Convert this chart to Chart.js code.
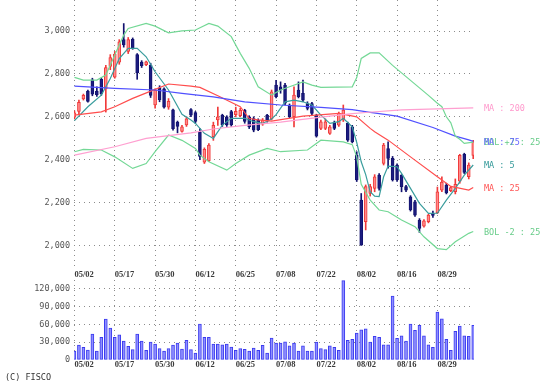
<!DOCTYPE html>
<html><head><meta charset="utf-8">
<script src="https://cdn.jsdelivr.net/npm/chart.js@4/dist/chart.umd.min.js"></script>
<style>
html,body{margin:0;padding:0;background:#fff;width:555px;height:387px;overflow:hidden}
#wrap{position:relative;width:555px;height:387px}
#main{position:absolute;left:0;top:0;width:555px;height:280px}
#vol{position:absolute;left:0;top:280px;width:555px;height:107px}
#copy{position:absolute;left:5px;top:372px;font:8.5px 'DejaVu Sans Mono',monospace;color:#333;line-height:10px}
</style></head><body>
<div id="wrap">
<canvas id="main" width="555" height="280"></canvas>
<canvas id="vol" width="555" height="107"></canvas>
<div id="copy">(C) FISCO</div>
</div>
<script>
const dates = ["05/02","05/07","05/08","05/09","05/10","05/13","05/14","05/15","05/16","05/17",
"05/20","05/21","05/22","05/23","05/24","05/27","05/28","05/29","05/30","05/31",
"06/03","06/04","06/05","06/06","06/07","06/10","06/11","06/12","06/13","06/14",
"06/17","06/18","06/19","06/20","06/21","06/24","06/25","06/26","06/27","06/28",
"07/01","07/02","07/03","07/04","07/05","07/08","07/09","07/10","07/11","07/12",
"07/16","07/17","07/18","07/19","07/22","07/23","07/24","07/25","07/26","07/29",
"07/30","07/31","08/01","08/02","08/05","08/06","08/07","08/08","08/09","08/13",
"08/14","08/15","08/16","08/19","08/20","08/21","08/22","08/23","08/26","08/27",
"08/28","08/29","08/30","09/02","09/03","09/04","09/05","09/06","09/09","09/10"];
const dateTickLabels = ["05/02","05/17","05/30","06/12","06/25","07/08","07/22","08/02","08/16","08/29"];
const priceTicks = [2000,2200,2400,2600,2800,3000];
const volumeTicks = [0,30000,60000,90000,120000];

const open  = [2598,2625,2683,2720,2772,2720,2775,2730,2835,2785,2855,2960,2905,2962,2890,2855,2843,2840,2655,2734,2730,2645,2632,2575,2532,2562,2634,2620,2530,2388,2395,2507,2585,2608,2600,2624,2610,2605,2630,2600,2592,2585,2566,2608,2590,2748,2740,2748,2655,2600,2725,2709,2662,2662,2608,2546,2546,2522,2569,2561,2585,2569,2553,2421,2211,2110,2242,2266,2328,2382,2452,2406,2375,2328,2274,2227,2203,2118,2090,2110,2150,2152,2258,2280,2255,2250,2300,2425,2320,2420];
const high  = [2628,2678,2706,2725,2780,2740,2780,2840,2890,2905,2960,3035,2970,2968,2895,2862,2860,2850,2730,2745,2735,2685,2636,2580,2560,2600,2638,2625,2545,2455,2475,2575,2645,2612,2605,2630,2645,2640,2635,2605,2600,2590,2592,2612,2725,2770,2763,2756,2660,2740,2763,2771,2670,2668,2612,2585,2590,2560,2580,2622,2655,2575,2560,2437,2242,2282,2285,2330,2335,2476,2483,2415,2380,2330,2280,2232,2210,2125,2120,2145,2160,2272,2320,2290,2275,2310,2425,2430,2385,2490];
const low   = [2590,2615,2678,2668,2698,2695,2700,2622,2820,2780,2845,2925,2895,2915,2775,2830,2838,2690,2640,2670,2640,2635,2538,2525,2528,2555,2600,2570,2400,2382,2390,2490,2560,2555,2555,2555,2600,2600,2570,2545,2530,2535,2560,2575,2585,2688,2710,2655,2595,2553,2688,2670,2632,2610,2505,2540,2540,2518,2540,2555,2578,2485,2478,2298,2000,2072,2230,2250,2258,2375,2360,2300,2298,2250,2250,2160,2135,2060,2085,2105,2130,2148,2250,2240,2250,2240,2290,2335,2310,2405];
const close = [2618,2668,2700,2672,2705,2703,2708,2830,2876,2893,2950,2935,2960,2920,2805,2838,2857,2700,2725,2680,2645,2672,2545,2555,2553,2590,2608,2578,2415,2448,2468,2560,2600,2562,2562,2562,2625,2630,2578,2553,2538,2540,2585,2580,2717,2694,2725,2663,2600,2701,2694,2678,2639,2616,2510,2577,2577,2553,2546,2616,2631,2491,2483,2305,2001,2274,2274,2320,2266,2468,2406,2305,2305,2274,2258,2165,2141,2079,2115,2141,2140,2250,2295,2245,2270,2285,2420,2340,2375,2483];
const volume = [15100,25200,21300,16800,43700,15100,38100,69000,53800,38100,42600,32000,23000,17400,43700,32000,16300,30300,26900,19100,15100,19100,25200,28600,18500,33100,17400,11800,60600,38100,38100,26900,26900,25800,26900,21900,16300,19100,18000,15100,20200,16300,24700,11800,37000,28600,28600,30800,24100,28600,15100,24100,15100,15100,30300,19100,17400,24100,21300,16300,134000,33100,34800,45400,51000,52700,30300,39800,38100,25800,25800,107700,36400,40900,32000,60600,49900,58300,40900,25800,21300,80700,69500,34800,16300,48200,57200,40900,39800,58300];

// [day index, value]
const ma5 = [[0,2582],[3,2647],[6,2701],[8,2779],[10,2872],[12,2919],[14,2919],[16,2880],[18,2810],[21,2725],[24,2612],[26,2585],[27,2569],[29,2523],[31,2499],[33,2561],[35,2593],[38,2593],[40,2577],[42,2569],[44,2590],[45,2610],[47,2670],[49,2678],[51,2670],[53,2655],[55,2608],[57,2569],[59,2577],[60,2593],[62,2553],[63,2480],[64,2390],[65,2330],[66,2250],[67,2230],[68,2228],[69,2320],[70,2370],[72,2367],[73,2336],[75,2266],[77,2196],[79,2149],[81,2150],[83,2211],[85,2266],[87,2328],[89,2375]];
const ma25 = [[0,2608],[6,2623],[9,2647],[13,2686],[18,2728],[21,2753],[26,2743],[28,2737],[32,2698],[37,2647],[39,2592],[41,2586],[44,2580],[51,2603],[59,2616],[63,2600],[66,2546],[67,2530],[70,2491],[75,2413],[81,2320],[84,2275],[88,2258],[89,2270]];
const ma75 = [[0,2743],[9,2733],[18,2725],[24,2709],[31,2693],[38,2670],[46,2655],[55,2644],[62,2633],[66,2621],[72,2603],[80,2550],[85,2510],[88,2492],[89,2485]];
const ma200 = [[0,2421],[9,2460],[16,2499],[26,2525],[31,2543],[38,2560],[46,2575],[55,2598],[62,2615],[65,2620],[73,2632],[89,2642]];
const bolUp = [[0,2784],[2,2771],[5,2771],[7,2795],[9,2888],[11,2981],[12,3012],[16,3036],[18,3023],[21,2992],[24,3001],[27,3005],[30,3036],[32,3023],[35,2974],[37,2896],[39,2826],[41,2740],[44,2701],[46,2725],[48,2740],[51,2763],[53,2748],[55,2737],[62,2740],[63,2783],[64,2872],[66,2898],[68,2898],[71,2840],[73,2805],[77,2735],[79,2700],[81,2663],[82,2647],[83,2600],[84,2572],[85,2510],[86,2495],[87,2476],[89,2482]];
const bolDn = [[0,2437],[2,2448],[6,2445],[9,2413],[13,2359],[16,2382],[18,2437],[21,2515],[24,2490],[27,2452],[28,2421],[30,2390],[34,2351],[36,2382],[39,2421],[43,2452],[46,2437],[52,2445],[55,2491],[60,2483],[62,2470],[63,2413],[64,2285],[66,2211],[68,2165],[70,2157],[73,2118],[76,2087],[78,2040],[81,1985],[83,1980],[85,2017],[88,2056],[89,2065]];

const tickIdx = dateTickLabels.map(d => dates.indexOf(d));
const UP_FILL='#ff8a8a', UP_LINE='#f03a3a', DN_FILL='#1c1c80', DN_LINE='#12126e';
const MONO = "'DejaVu Sans Mono', monospace";
const up = i => close[i] >= open[i];
const pts = arr => arr.map(p => ({x:p[0], y:p[1]}));

function zeroPad(s){ s.paddingTop=0; s.paddingBottom=0; s.paddingLeft=0; s.paddingRight=0; }

function xScale(h){
  return {
    type:'linear', min:-0.1, max:89.17, offset:false,
    afterBuildTicks: s => { s.ticks = tickIdx.map(v => ({value:v})); },
    afterFit: s => { s.height = h; zeroPad(s); },
    ticks:{ autoSkip:false, maxRotation:0, minRotation:0, align:'start', padding:0,
      callback: v => dates[v], color:'#3a3a3a',
      font:{family:"'Liberation Serif', serif", size:8.5, weight:'bold'} },
    grid:{ color:'#8c8c8c', drawTicks:false, offset:false, lineWidth:1 },
    border:{ display:false, dash:[1,4] }
  };
}
function yScale(min, max, tickVals){
  return {
    min, max,
    afterBuildTicks: s => { s.ticks = tickVals.map(v => ({value:v})); },
    afterFit: s => { s.width = 74; zeroPad(s); },
    ticks:{ padding:4, color:'#555', font:{family:MONO, size:8.5},
      callback: v => v.toLocaleString('en-US') },
    grid:{ drawTicks:false, lineWidth:1,
      color: c => (c.tick && c.tick.value === 0) ? 'rgba(0,0,0,0)' : '#8c8c8c' },
    border:{ display:false, dash:[1,4] }
  };
}

const endLabels = {
  id:'endLabels',
  afterDatasetsDraw(chart){
    const {ctx, chartArea, scales} = chart;
    ctx.save();
    ctx.font = "8.5px " + MONO;
    ctx.textBaseline = 'middle';
    ctx.textAlign = 'left';
    chart.data.datasets.forEach(ds => {
      if (!ds.endLabel) return;
      const last = ds.data[ds.data.length-1];
      ctx.fillStyle = ds.labelColor;
      ctx.fillText(ds.endLabel, chartArea.right + 10, scales.y.getPixelForValue(last.y) + 1);
    });
    ctx.restore();
  }
};

function line(data, color, label, labelColor){
  return { type:'line', data:pts(data), borderColor:color, borderWidth:1.2, pointRadius:0,
    tension:0, fill:false, order:0, endLabel:label, labelColor:labelColor||color };
}

new Chart(document.getElementById('main'), {
  type:'bar',
  data:{ datasets:[
    line(ma200,'#ff9fd0','MA : 200','#ff99cc'),
    line(bolUp,'#74d896','BOL +2 : 25','#66cc88'),
    line(bolDn,'#74d896','BOL -2 : 25','#66cc88'),
    line(ma75,'#5050ff','MA : 75','#6464ff'),
    line(ma25,'#ff4d4d','MA : 25','#ff5555'),
    line(ma5,'#3a9d9d','MA : 5','#339999'),
    { type:'bar', order:1, grouped:false, barThickness:3, minBarLength:1,
      data: dates.map((d,i) => ({x:i, y:[open[i], close[i]]})),
      backgroundColor: dates.map((d,i) => up(i) ? UP_FILL : DN_FILL),
      borderColor: dates.map((d,i) => up(i) ? UP_LINE : DN_LINE),
      borderWidth:1, borderSkipped:false },
    { type:'bar', order:2, grouped:false, barThickness:1,
      data: dates.map((d,i) => ({x:i, y:[low[i], high[i]]})),
      backgroundColor: dates.map((d,i) => up(i) ? UP_LINE : DN_LINE),
      borderWidth:0 }
  ]},
  options:{
    responsive:false, animation:false, events:[],
    layout:{ padding:{left:0, right:81, top:0, bottom:0} },
    plugins:{ legend:{display:false}, tooltip:{enabled:false} },
    scales:{ x:xScale(10), y:yScale(1885, 3145, priceTicks) }
  },
  plugins:[endLabels]
});

new Chart(document.getElementById('vol'), {
  type:'bar',
  data:{ datasets:[
    { grouped:false, barThickness:3,
      data: dates.map((d,i) => ({x:i, y:volume[i]})),
      backgroundColor:'#8f8fff', borderColor:'#3b3bef', borderWidth:1, borderSkipped:false }
  ]},
  options:{
    responsive:false, animation:false, events:[],
    layout:{ padding:{left:0, right:81, top:0, bottom:0} },
    plugins:{ legend:{display:false}, tooltip:{enabled:false} },
    scales:{ x:xScale(27), y:yScale(0, 135000, volumeTicks) }
  }
});
</script>
</body></html>
